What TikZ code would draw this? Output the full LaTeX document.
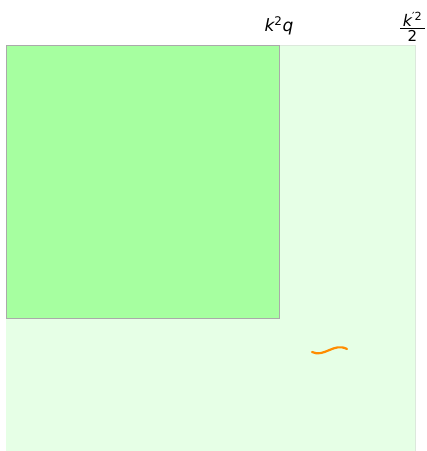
\documentclass[tikz,border=0pt]{standalone}
\usepackage{fontspec}
\setmainfont{DejaVu Sans}
\definecolor{lightg}{HTML}{E6FFE6}
\definecolor{darkg}{HTML}{A6FFA0}
\definecolor{edgeg}{HTML}{AAAAAA}
\definecolor{faint}{HTML}{DCE8DC}
\definecolor{orangec}{HTML}{FF8C00}
\begin{document}
\begin{tikzpicture}[x=1pt,y=-1pt,
  lbl/.style={inner sep=0pt,font=\fontsize{17}{20}\selectfont}]
\useasboundingbox (0,0) rectangle (427,451);
\path[fill=lightg,draw=faint,line width=1pt] (6,45) -- (415,45) -- (415,460) -- (6,460);
\draw[fill=darkg,draw=edgeg,line width=1pt] (6,45) rectangle (279,318);
\node[lbl] (kq) at (279,26) {\itshape k\textsuperscript{\upshape 2}q};
\node[lbl,font=\fontsize{16}{18}\selectfont,anchor=south] (kn) at (412.5,26.5) {\itshape k\textsuperscript{\upshape ′2}};
\node[lbl,font=\fontsize{15}{18}\selectfont,anchor=north] (kd) at (412.5,30.5) {2};
\draw[line width=1.3pt] (400,28.5) -- (425,28.5);
\coordinate (t1) at (312,352);
\coordinate (t2) at (347,349);
\draw[orangec,line width=2.2pt,line cap=round] (t1) .. controls (324,358) and (334,342) .. (t2);
\end{tikzpicture}
\end{document}
